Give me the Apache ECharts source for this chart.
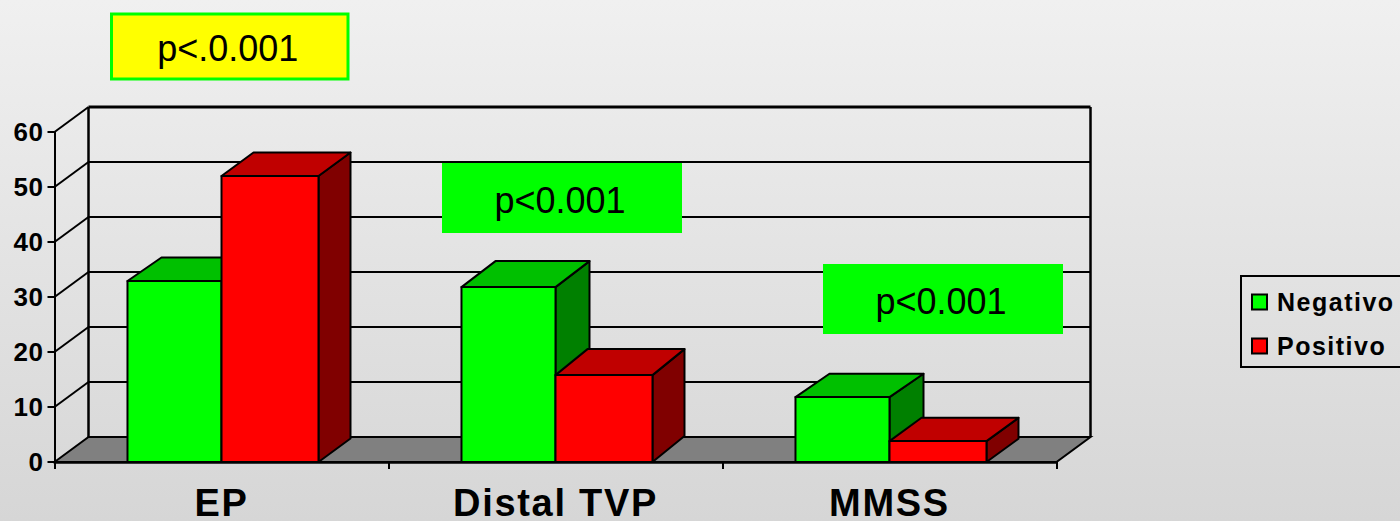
<!DOCTYPE html>
<html><head><meta charset="utf-8">
<style>
html,body{margin:0;padding:0;background:#ddd;overflow:hidden}
#c{width:1400px;height:521px}
</style>
<script src="https://cdn.jsdelivr.net/npm/echarts@6/dist/echarts.min.js"></script>
</head><body><div id="c"></div>
<script>
const categories = ['EP', 'Distal TVP', 'MMSS'];
const negativo = [32.9, 31.8, 11.8];
const positivo = [52, 15.8, 3.8];
const yTicks = [0, 10, 20, 30, 40, 50, 60];
const notes = ['p<.0.001', 'p<0.001', 'p<0.001'];

const WALL_DX = 34, WALL_DY = -25;
const barDepthY = [-23.5, -26, -23.3];
const FONT = '"Liberation Sans", Arial, sans-serif';
const chart = echarts.init(document.getElementById('c'), null, {renderer: 'svg'});
const ln = {stroke: '#000', lineWidth: 2};
const heavy = {stroke: '#000', lineWidth: 2.5};

function bar(colors, ratio, side, dx) {
  return function (params, api) {
    const cat = api.value(0), val = api.value(1);
    const base = api.coord([cat, 0]), top = api.coord([cat, val]);
    const w = api.size([1, 0])[0] * ratio;
    const dy = barDepthY[cat];
    const x0 = side < 0 ? base[0] - w : base[0], x1 = x0 + w;
    const y0 = top[1], y1 = base[1];
    const poly = (pts, fill) => ({type: 'polygon', shape: {points: pts}, style: {fill, ...ln, lineJoin: 'round'}});
    return {type: 'group', children: [
      poly([[x1, y0], [x1 + dx, y0 + dy], [x1 + dx, y1 + dy], [x1, y1]], colors[2]),
      poly([[x0, y0], [x0 + dx, y0 + dy], [x1 + dx, y0 + dy], [x1, y0]], colors[1]),
      poly([[x0, y0], [x1, y0], [x1, y1], [x0, y1]], colors[0])
    ]};
  };
}

function walls(params, api) {
  const cs = params.coordSys, v = api.value(1);
  const y = api.coord([0, v])[1];
  const L = cs.x, R = cs.x + cs.width;
  const kids = [];
  if (v === 0) {
    kids.push({type: 'polygon', shape: {points: [[L, y], [L + WALL_DX, y + WALL_DY], [R + WALL_DX, y + WALL_DY], [R, y]]},
      style: {fill: '#808080', ...ln}});
    kids.push({type: 'line', shape: {x1: L + WALL_DX, y1: y + WALL_DY, x2: L + WALL_DX, y2: cs.y + WALL_DY}, style: heavy});
    kids.push({type: 'line', shape: {x1: R + WALL_DX, y1: y + WALL_DY, x2: R + WALL_DX, y2: cs.y + WALL_DY}, style: heavy});
  } else {
    kids.push({type: 'line', shape: {x1: L, y1: y, x2: L + WALL_DX, y2: y + WALL_DY}, style: ln});
    kids.push({type: 'line', shape: {x1: L + WALL_DX, y1: y + WALL_DY, x2: R + WALL_DX, y2: y + WALL_DY},
      style: v === 60 ? {stroke: '#000', lineWidth: 3} : ln});
  }
  return {type: 'group', children: kids};
}

function note(x, y, w, h, text, fill, stroke) {
  return {type: 'group', left: x, top: y, z: 100, children: [
    {type: 'rect', shape: {width: w, height: h}, z: 100,
      style: {fill, stroke: stroke || 'none', lineWidth: stroke ? 3 : 0}},
    {type: 'text', x: w / 2 - 2, y: h / 2 + 2, z: 101,
      style: {text, x: 0, y: 0, fill: '#000', font: '36px ' + FONT, textAlign: 'center', textVerticalAlign: 'middle'}}
  ]};
}

chart.setOption({
  animation: false,
  backgroundColor: new echarts.graphic.LinearGradient(0, 0, 0, 1, [
    {offset: 0, color: '#f0f0f0'}, {offset: 1, color: '#d6d6d6'}]),
  grid: {left: 54.5, top: 132, width: 1002, height: 330, outerBoundsMode: 'none', containLabel: false},
  xAxis: {type: 'category', data: categories,
    axisLine: {lineStyle: {color: '#000', width: 2.5}},
    axisTick: {show: true, length: 7, lineStyle: {color: '#000', width: 2}},
    axisLabel: {color: '#000', fontFamily: FONT, fontWeight: 'bold', fontSize: 38, lineHeight: 30, margin: 26, interval: 0}},
  yAxis: {type: 'value', min: 0, max: 60, interval: 10,
    axisLine: {show: true, lineStyle: {color: '#000', width: 2}},
    axisTick: {show: true, length: 7, lineStyle: {color: '#000', width: 2}},
    splitLine: {show: false},
    axisLabel: {color: '#000', fontFamily: FONT, fontWeight: 'bold', fontSize: 26, margin: 11}},
  legend: {data: ['Negativo', 'Positivo'], orient: 'vertical', left: 1241, top: 276,
    backgroundColor: 'transparent', borderColor: '#000', borderWidth: 2, borderRadius: 0,
    padding: [11, 60, 6, 10], itemWidth: 15, itemHeight: 15, itemGap: 14, icon: 'rect',
    itemStyle: {borderColor: '#000', borderWidth: 2},
    textStyle: {color: '#000', fontFamily: FONT, fontWeight: 'bold', fontSize: 25, lineHeight: 30, padding: [0, 0, 0, 5]}},
  series: [
    {name: 'walls', type: 'custom', coordinateSystem: 'cartesian2d', clip: false, z: 1, silent: true,
      data: yTicks.map(v => [0, v]), encode: {x: 0, y: 1}, renderItem: walls},
    {name: 'Negativo', type: 'custom', coordinateSystem: 'cartesian2d', clip: false, z: 3,
      itemStyle: {color: '#00ff00'},
      data: negativo.map((v, i) => [i, v]), encode: {x: 0, y: 1},
      renderItem: bar(['#00ff00', '#00c000', '#008000'], 0.2815, -1, 34)},
    {name: 'Positivo', type: 'custom', coordinateSystem: 'cartesian2d', clip: false, z: 4,
      itemStyle: {color: '#ff0000'},
      data: positivo.map((v, i) => [i, v]), encode: {x: 0, y: 1},
      renderItem: bar(['#ff0000', '#c00000', '#800000'], 0.2904, 1, 32)}
  ],
  graphic: [
    note(110, 12.5, 236.5, 65, notes[0], '#ffff00', '#00ff00'),
    note(442, 163, 240, 70, notes[1], '#00ff00'),
    note(823, 264, 240, 70, notes[2], '#00ff00')
  ]
});

function spaceText() {
  const spacing = {'38px': '1.7px', '26px': '0.6px', '25px': '1.5px'};
  document.querySelectorAll('#c svg text').forEach(t => {
    const s = spacing[getComputedStyle(t).fontSize];
    if (s) t.style.letterSpacing = s;
  });
}
chart.on('finished', spaceText);
spaceText();
requestAnimationFrame(spaceText);
</script></body></html>
